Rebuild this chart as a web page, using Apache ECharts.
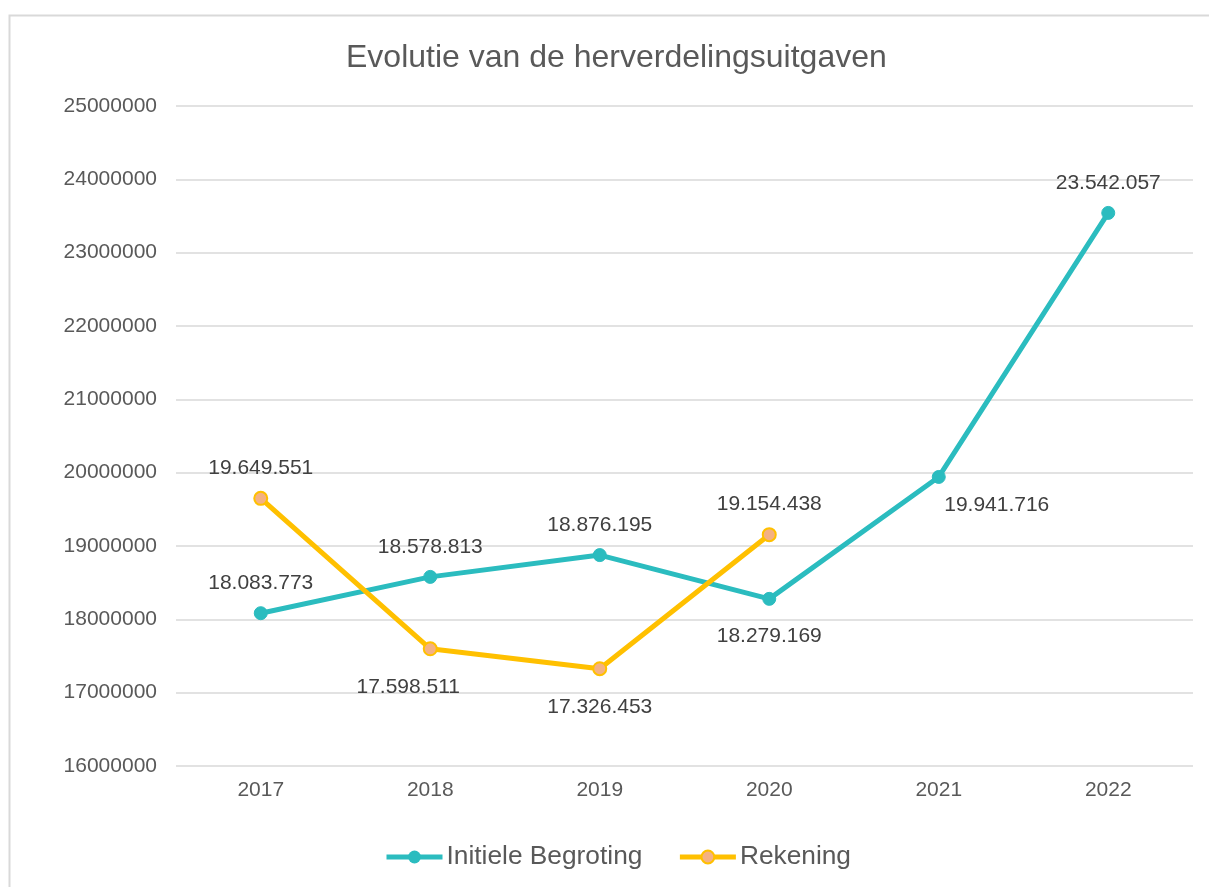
<!DOCTYPE html>
<html>
<head>
<meta charset="utf-8">
<script src="https://cdn.jsdelivr.net/npm/echarts@6/dist/echarts.min.js"></script>
<style>
html,body{margin:0;padding:0;background:#fff;}
#chart{width:1209px;height:887px;}
</style>
</head>
<body>
<div id="chart"></div>
<script>
const categories = ['2017','2018','2019','2020','2021','2022'];
const initieleBegroting = [18083773, 18578813, 18876195, 18279169, 19941716, 23542057];
const rekening = [19649551, 17598511, 17326453, 19154438, null, null];
const initLabelPos = ['top','top','top','bottom','bottom','top'];
const rekLabelPos = ['top','bottom','bottom','top',null,null];

const fmt = v => String(Math.round(v)).replace(/\B(?=(\d{3})+(?!\d))/g, '.');
const FONT = 'Liberation Sans, Arial, sans-serif';
const TXT = '#595959';

function labelFor(pos, idx, series) {
  const base = {show:true, position: pos, distance: pos === 'top' ? 12 : 20,
    color: '#404040', fontSize: 21, fontFamily: FONT, formatter: p => fmt(p.value)};
  if (series === 'init' && idx === 4) { base.offset = [58, -9]; }
  if (series === 'rek' && idx === 1) { base.offset = [-22, 0]; }
  return base;
}

const chart = echarts.init(document.getElementById('chart'), null, {renderer:'canvas'});
chart.setOption({
  backgroundColor: '#fff',
  animation: false,
  graphic: [{type:'rect', shape:{x:9.5, y:15.5, width:1300, height:1000},
    style:{fill:'none', stroke:'#d9d9d9', lineWidth:2}, silent:true, z:-1}],
  title: {text:'Evolutie van de herverdelingsuitgaven', left:341, top:37,
    textStyle:{color:TXT, fontSize:32, fontWeight:'normal', fontFamily:FONT}},
  legend: {bottom: 12, left:379, itemWidth:56, itemHeight:16, itemGap:35,
    lineStyle:{width:5},
    textStyle:{color:TXT, fontSize:26.3, fontFamily:FONT, padding:[0,0,0,-1]},
    data:['Initiele Begroting','Rekening']},
  grid: {left:176, right:16, top:106, bottom:121, containLabel:false},
  xAxis: {type:'category', data: categories, boundaryGap:true,
    axisLine:{show:false}, axisTick:{show:false},
    axisLabel:{color:TXT, fontSize:21, fontFamily:FONT, margin:14}},
  yAxis: {type:'value', min:16000000, max:25000000, interval:1000000,
    axisLine:{show:false}, axisTick:{show:false},
    axisLabel:{color:TXT, fontSize:21, fontFamily:FONT, margin:19, formatter: v => String(v)},
    splitLine:{lineStyle:{color:'#d9d9d9', width:1.5}}},
  series: [
    {name:'Initiele Begroting', type:'line',
     data: initieleBegroting.map((v,i)=>({value:v, label: labelFor(initLabelPos[i], i, 'init')})),
     symbol:'circle', symbolSize:13,
     lineStyle:{color:'#2bbcbf', width:5}, itemStyle:{color:'#2bbcbf', borderColor:'#2bbcbf'}},
    {name:'Rekening', type:'line', connectNulls:false,
     data: rekening.map((v,i)=>v===null?null:({value:v, label: labelFor(rekLabelPos[i], i, 'rek')})),
     symbol:'circle', symbolSize:13,
     lineStyle:{color:'#ffc000', width:5}, itemStyle:{color:'#f4b183', borderColor:'#ffc000', borderWidth:2}}
  ]
});
</script>
</body>
</html>
